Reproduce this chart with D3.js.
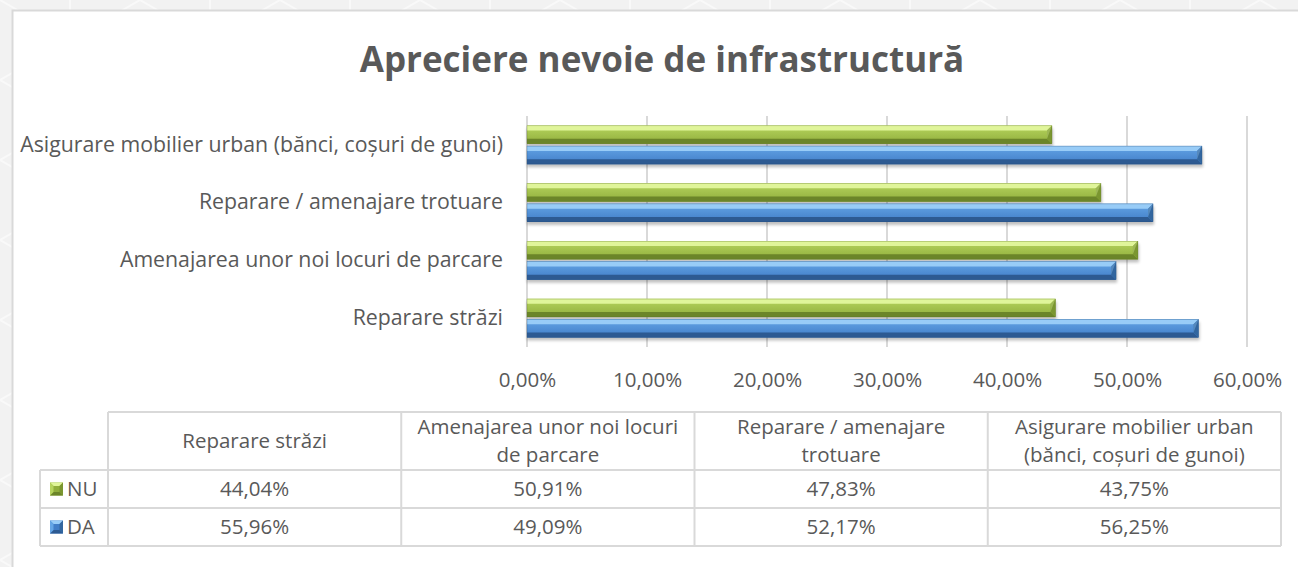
<!DOCTYPE html>
<html>
<head>
<meta charset="utf-8">
<script src="https://cdn.jsdelivr.net/npm/d3@7"></script>
<style>
  html, body { margin: 0; padding: 0; background: #f3f3f3; }
  svg { display: block; font-family: "Open Sans", sans-serif; }
</style>
</head>
<body>
<svg id="chart" width="1298" height="567"></svg>
<script>
// Survey results: perceived need for each kind of infrastructure work
const categories = [
  "Reparare străzi",
  "Amenajarea unor noi locuri de parcare",
  "Reparare / amenajare trotuare",
  "Asigurare mobilier urban (bănci, coșuri de gunoi)"
];
const seriesNames = ["NU", "DA"];
const valuesNU = [44.04, 50.91, 47.83, 43.75];
const valuesDA = [55.96, 49.09, 52.17, 56.25];
const tickValues = [0, 10, 20, 30, 40, 50, 60];
// Header cells of the data table, already broken into lines
const tableHeaders = [
  ["Reparare străzi"],
  ["Amenajarea unor noi locuri", "de parcare"],
  ["Reparare / amenajare", "trotuare"],
  ["Asigurare mobilier urban", "(bănci, coșuri de gunoi)"]
];
const titleText = "Apreciere nevoie de infrastructură";

const fmt = v => v.toFixed(2).replace(".", ",") + "%";
const textCol = "#595959";
const tickSize = 20.5;
const catSize = 21.3;

const svg = d3.select("#chart");
const W = 1298, H = 567;
const defs = svg.append("defs");

// ---- page background with faint geometric lines ----
const pat = defs.append("pattern").attr("id", "bgpat")
  .attr("patternUnits", "userSpaceOnUse").attr("width", 140).attr("height", 80);
pat.append("rect").attr("width", 140).attr("height", 80).attr("fill", "#f2f2f2");
pat.append("path").attr("d", "M0,0 L70,40 L140,0 M0,80 L70,40 L140,80 M70,0 L70,80")
  .attr("stroke", "#f9f9f9").attr("stroke-width", 2).attr("fill", "none");
svg.append("rect").attr("width", W).attr("height", H).attr("fill", "url(#bgpat)");

// ---- chart frame ----
svg.append("rect")
  .attr("x", 12.5).attr("y", 10.5).attr("width", W + 20).attr("height", H + 20)
  .attr("fill", "#ffffff").attr("stroke", "#d9d9d9").attr("stroke-width", 2);

// ---- title ----
svg.append("text")
  .attr("x", 662).attr("y", 72)
  .attr("text-anchor", "middle")
  .attr("font-size", 35).attr("font-weight", 700).attr("fill", textCol)
  .text(titleText);

// ---- scales ----
const plotLeft = 527, plotTop = 116, plotBottom = 347;
const x = d3.scaleLinear().domain([0, 60]).range([plotLeft, 1247]);
const y = d3.scaleBand().domain(categories).range([plotBottom, plotTop]);
const ySub = d3.scaleBand().domain(seriesNames).range([0, y.bandwidth()])
  .paddingInner(0.1).paddingOuter(0.47);

// ---- gridlines ----
svg.append("g").selectAll("line").data(tickValues).join("line")
  .attr("x1", d => x(d)).attr("x2", d => x(d))
  .attr("y1", plotTop).attr("y2", plotBottom)
  .attr("stroke", "#d9d9d9").attr("stroke-width", 2);

// ---- x axis ----
const xAxis = d3.axisBottom(x).tickValues(tickValues).tickSize(0).tickFormat(d => fmt(d));
const gx = svg.append("g").attr("transform", `translate(0,${plotBottom})`).call(xAxis);
gx.select(".domain").remove();
gx.selectAll("text")
  .attr("dy", null).attr("y", 40)
  .attr("font-size", tickSize).attr("font-family", "Open Sans, sans-serif").attr("fill", textCol);

// ---- y axis (category labels) ----
const yAxis = d3.axisLeft(y).tickSize(0).tickPadding(0);
const gy = svg.append("g").attr("transform", `translate(503,0)`).call(yAxis);
gy.select(".domain").remove();
gy.selectAll("text")
  .attr("font-size", catSize).attr("font-family", "Open Sans, sans-serif").attr("fill", textCol)
  .attr("dy", "0.32em").attr("x", 0);

// ---- bevelled bar styles ----
const palette = {
  NU: { top: "#e0f59a", f1: "#b6d45e", f2: "#90ae3c", bottom: "#6b8529", end: "#7a9630", edge: "#5d7424" },
  DA: { top: "#98ccf7", f1: "#64a5e6", f2: "#417dc7", bottom: "#2d5a92", end: "#32669f", edge: "#27507f" }
};
Object.entries(palette).forEach(([k, c]) => {
  const g = defs.append("linearGradient").attr("id", "face" + k)
    .attr("x1", 0).attr("y1", 0).attr("x2", 0).attr("y2", 1);
  g.append("stop").attr("offset", 0).attr("stop-color", c.f1);
  g.append("stop").attr("offset", 1).attr("stop-color", c.f2);
});
const blur = defs.append("filter").attr("id", "shadow")
  .attr("x", "-5%").attr("y", "-50%").attr("width", "110%").attr("height", "200%");
blur.append("feGaussianBlur").attr("stdDeviation", 1.8);

const barData = [];
categories.forEach((cat, i) => {
  barData.push({ cat, s: "NU", v: valuesNU[i] });
  barData.push({ cat, s: "DA", v: valuesDA[i] });
});

const bars = svg.append("g").selectAll("g").data(barData).join("g")
  .attr("transform", d => `translate(0,${y(d.cat) + ySub(d.s)})`);

bars.each(function (d) {
  const g = d3.select(this);
  const c = palette[d.s];
  const x0 = x(0), x1 = x(d.v), h = ySub.bandwidth(), b = 5;
  // soft drop shadow
  g.append("rect").attr("x", x0).attr("y", 3).attr("width", x1 - x0 + 1).attr("height", h)
    .attr("fill", "#000").attr("opacity", 0.25).attr("filter", "url(#shadow)");
  // face
  g.append("rect").attr("x", x0).attr("y", 0).attr("width", x1 - x0).attr("height", h)
    .attr("fill", `url(#face${d.s})`);
  // top bevel
  g.append("path").attr("d", `M${x0},0 L${x1},0 L${x1 - b},${b} L${x0},${b} Z`).attr("fill", c.top);
  // bottom bevel
  g.append("path").attr("d", `M${x0},${h} L${x1},${h} L${x1 - b},${h - b} L${x0},${h - b} Z`).attr("fill", c.bottom);
  // end bevel
  g.append("path").attr("d", `M${x1},0 L${x1},${h} L${x1 - b},${h - b} L${x1 - b},${b} Z`).attr("fill", c.end);
  g.append("path").attr("d", `M${x1},0 L${x1 - b},${b} L${x1 - b},${h - b} Z`).attr("fill", c.top).attr("opacity", 0.35);
  // outline
  g.append("rect").attr("x", x0).attr("y", 0.25).attr("width", x1 - x0).attr("height", h - 0.5)
    .attr("fill", "none").attr("stroke", c.edge).attr("stroke-width", 0.5).attr("opacity", 0.6);
});

// ---- data table ----
const colX = d3.scaleBand().domain(categories).range([108, 1281]);
const tTop = 412, rowH = [58, 38, 38];
const rowY = [tTop, tTop + rowH[0], tTop + rowH[0] + rowH[1], tTop + rowH[0] + rowH[1] + rowH[2]];
const legendLeft = 40;
const tbl = svg.append("g");
const lineCol = "#d9d9d9";
const tableSize = 20.5;

// horizontal rules
tbl.append("line").attr("x1", 108).attr("x2", 1281).attr("y1", rowY[0]).attr("y2", rowY[0])
  .attr("stroke", lineCol).attr("stroke-width", 2);
[1, 2, 3].forEach(r => {
  tbl.append("line").attr("x1", legendLeft).attr("x2", 1281).attr("y1", rowY[r]).attr("y2", rowY[r])
    .attr("stroke", lineCol).attr("stroke-width", 2);
});
// vertical rules
tbl.append("line").attr("x1", legendLeft).attr("x2", legendLeft).attr("y1", rowY[1]).attr("y2", rowY[3])
  .attr("stroke", lineCol).attr("stroke-width", 2);
const vx = categories.map(c => colX(c)).concat([1281]);
vx.forEach(v => {
  tbl.append("line").attr("x1", v).attr("x2", v).attr("y1", rowY[0]).attr("y2", rowY[3])
    .attr("stroke", lineCol).attr("stroke-width", 2);
});

// header text
categories.forEach((cat, i) => {
  const lines = tableHeaders[i];
  const cx = colX(cat) + colX.bandwidth() / 2;
  const cy = rowY[0] + rowH[0] / 2;
  const lh = 27.5;
  lines.forEach((ln, j) => {
    tbl.append("text")
      .attr("x", cx).attr("y", cy + (j - (lines.length - 1) / 2) * lh)
      .attr("dy", "0.35em").attr("text-anchor", "middle")
      .attr("font-size", tableSize).attr("fill", textCol).text(ln);
  });
});

// value rows
const rows = [{ s: "NU", vals: valuesNU }, { s: "DA", vals: valuesDA }];
rows.forEach((r, ri) => {
  const cy = rowY[ri + 1] + rowH[ri + 1] / 2;
  // legend key
  const c = palette[r.s];
  const kx = 50, ks = 13, ky = cy - ks / 2, kb = 3.5;
  tbl.append("rect").attr("x", kx).attr("y", ky).attr("width", ks).attr("height", ks).attr("fill", c.f2);
  tbl.append("path").attr("d", `M${kx},${ky} L${kx + ks},${ky} L${kx + ks - kb},${ky + kb} L${kx + kb},${ky + kb} Z`).attr("fill", c.top);
  tbl.append("path").attr("d", `M${kx},${ky + ks} L${kx + ks},${ky + ks} L${kx + ks - kb},${ky + ks - kb} L${kx + kb},${ky + ks - kb} Z`).attr("fill", c.bottom);
  tbl.append("path").attr("d", `M${kx},${ky} L${kx + kb},${ky + kb} L${kx + kb},${ky + ks - kb} L${kx},${ky + ks} Z`).attr("fill", c.f1);
  tbl.append("path").attr("d", `M${kx + ks},${ky} L${kx + ks - kb},${ky + kb} L${kx + ks - kb},${ky + ks - kb} L${kx + ks},${ky + ks} Z`).attr("fill", c.end);
  tbl.append("text").attr("x", 67).attr("y", cy).attr("dy", "0.35em")
    .attr("font-size", tableSize).attr("fill", textCol).text(r.s);
  categories.forEach((cat, i) => {
    tbl.append("text")
      .attr("x", colX(cat) + colX.bandwidth() / 2).attr("y", cy).attr("dy", "0.35em")
      .attr("text-anchor", "middle").attr("font-size", tableSize).attr("fill", textCol)
      .text(fmt(r.vals[i]));
  });
});
</script>
</body>
</html>
